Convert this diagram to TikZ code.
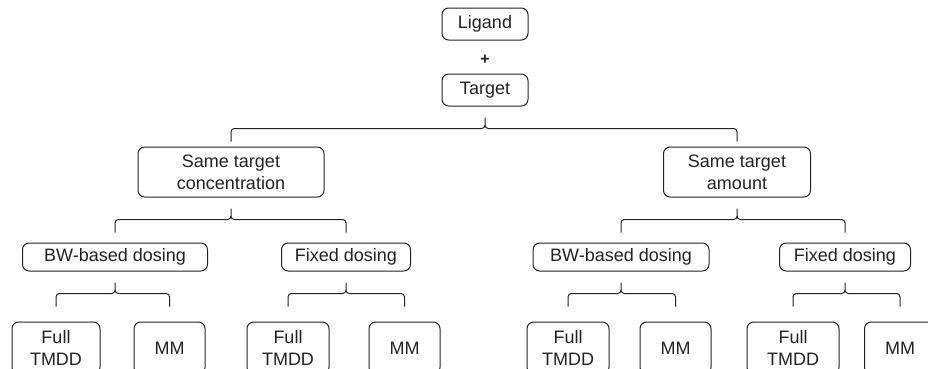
\documentclass[tikz,border=0pt]{standalone}
\usepackage{fontspec}
\setmainfont{Liberation Sans}
\usetikzlibrary{calc}
\definecolor{inkgray}{HTML}{222222}
\begin{document}
\begin{tikzpicture}[x=0.75pt,y=-0.75pt,
  box/.style={draw=inkgray,line width=0.75pt,rounded corners=5pt,inner sep=0pt,
    align=center,text=inkgray,font=\fontsize{13.5}{16.3}\selectfont},
  brk/.style={draw=inkgray,line width=0.75pt,rounded corners=2.5pt}]
\useasboundingbox (0,0) rectangle (928,368);
\clip (0,0) rectangle (928,368);
% top
\node[box,minimum width=64.5pt,minimum height=24pt] (lig) at (485,24) {Ligand};
\node[text=inkgray,font=\fontsize{12}{14}\selectfont\bfseries] (plus) at (485,60) {+};
\node[box,minimum width=64.5pt,minimum height=24pt] (tgt) at (485,90) {Target};
% second row
\node[box,minimum width=139.5pt,minimum height=37.5pt] (stc) at (231,172) {Same target\\concentration};
\node[box,minimum width=110.25pt,minimum height=37.5pt] (sta) at (737,172) {Same target\\amount};
% dosing
\node[box,minimum width=138.75pt,minimum height=21pt] (bw1) at (115,257) {BW-based dosing};
\node[box,minimum width=96.75pt,minimum height=21pt] (fx1) at (346,257) {Fixed dosing};
\node[box,minimum width=132pt,minimum height=21pt] (bw2) at (621,257) {BW-based dosing};
\node[box,minimum width=98.25pt,minimum height=21pt] (fx2) at (845,257) {Fixed dosing};
% models
\node[box,minimum width=66pt,minimum height=39pt] (f1) at (56,348) {Full\\TMDD};
\node[box,minimum width=53.25pt,minimum height=39pt] (m1) at (169.5,348) {MM};
\node[box,minimum width=61.5pt,minimum height=39pt] (f2) at (288,348) {Full\\TMDD};
\node[box,minimum width=53.25pt,minimum height=39pt] (m2) at (404.5,348) {MM};
\node[box,minimum width=61.5pt,minimum height=39pt] (f3) at (568,348) {Full\\TMDD};
\node[box,minimum width=53.25pt,minimum height=39pt] (m3) at (675.5,348) {MM};
\node[box,minimum width=69pt,minimum height=39pt] (f4) at (793,348) {Full\\TMDD};
\node[box,minimum width=53.25pt,minimum height=39pt] (m4) at (900,348) {MM};
% brackets
\foreach \p/\a/\b in {tgt/stc/sta, stc/bw1/fx1, sta/bw2/fx2, bw1/f1/m1,
    fx1/f2/m2, bw2/f3/m3, fx2/f4/m4} {
  \coordinate (\p-tip) at ($(\p.south)+(0,11)$);
  \coordinate (\p-bar) at ($(\p.south)+(0,22)$);
  \coordinate (\p-foot) at ($(\p.south)+(0,35)$);
  \draw[brk] (\p-tip) -- (\p-tip |- \p-bar) -- (\a |- \p-bar) -- (\a |- \p-foot)
    (\p-tip) -- (\p-tip |- \p-bar) -- (\b |- \p-bar) -- (\b |- \p-foot);
}
\end{tikzpicture}
\end{document}
